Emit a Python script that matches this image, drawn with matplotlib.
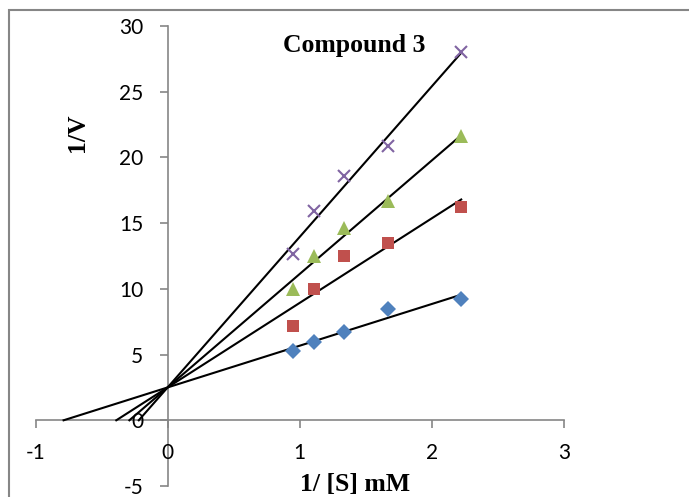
import numpy as np
import matplotlib
matplotlib.use("Agg")
import matplotlib.pyplot as plt
from matplotlib.patches import Rectangle

plt.rcParams["axes.unicode_minus"] = False

# 1/[S] values (mM^-1)
inv_s = [0.952, 1.111, 1.333, 1.667, 2.222]

# 1/V for each inhibitor level
series_names = ["control", "conc 1", "conc 2", "conc 3"]
inv_v = [
    [5.25, 5.95, 6.7, 8.5, 9.2],
    [7.15, 10.0, 12.5, 13.5, 16.2],
    [10.0, 12.5, 14.65, 16.65, 21.6],
    [12.65, 15.9, 18.55, 20.9, 28.0],
]
# trendlines in the original share a fixed intercept
fixed_intercept = 2.5

markers = ["D", "s", "^", "x"]
colors = ["#4F81BD", "#C0504D", "#9BBB59", "#8064A2"]
msizes = [8.5, 8.5, 10.5, 8]

W, H = 689, 497
fig = plt.figure(figsize=(W / 100, H / 100), dpi=100)
ax = fig.add_axes([35.5 / W, 1 - 486 / H, (564 - 35.5) / W, (486 - 26) / H])

x = np.array(inv_s)
for ys, m, c, ms in zip(inv_v, markers, colors, msizes):
    y = np.array(ys)
    # least squares slope with intercept held fixed
    slope = np.sum(x * (y - fixed_intercept)) / np.sum(x * x)
    x0 = -fixed_intercept / slope
    xl = np.array([x0, x.max()])
    ax.plot(xl, fixed_intercept + slope * xl, color="black", lw=1.5, zorder=2)
    if m == "x":
        ax.plot(x, y, linestyle="none", marker=m, color=c, ms=ms,
                markeredgewidth=1.5, zorder=3)
    else:
        ax.plot(x, y, linestyle="none", marker=m, color=c, ms=ms,
                markeredgewidth=0, zorder=3)

ax.set_xlim(-1, 3)
ax.set_ylim(-5, 30)
ax.set_xticks(np.arange(-1, 4, 1))
ax.set_yticks(np.arange(-5, 31, 5))

axis_gray = "#868686"
for side in ["top", "right"]:
    ax.spines[side].set_visible(False)
ax.spines["left"].set_position(("data", 0))
ax.spines["bottom"].set_position(("data", 0))
for side in ["left", "bottom"]:
    ax.spines[side].set_color(axis_gray)
    ax.spines[side].set_linewidth(1.2)
ax.spines["left"].set_zorder(1)
ax.spines["bottom"].set_zorder(1)

ax.tick_params(axis="both", direction="out", length=5.5, width=1.2,
               color=axis_gray, labelsize=15)
ax.tick_params(axis="y", pad=12)
ax.tick_params(axis="x", pad=11)
for lbl in ax.get_xticklabels() + ax.get_yticklabels():
    lbl.set_fontfamily("Lato")
ax.patch.set_visible(False)

serif = "Liberation Serif"
fig.text(354.5 / W, 1 - 46 / H, "Compound 3", fontsize=18.5, fontweight="bold",
         family=serif, ha="center", va="center")
fig.text(355.5 / W, 1 - 484 / H, "1/ [S] mM", fontsize=18.5, fontweight="bold",
         family=serif, ha="center", va="center")
fig.text(78 / W, 1 - 133 / H, "1/V", fontsize=18.5, fontweight="bold",
         family=serif, ha="center", va="center", rotation=90)

# chart area border (only top and left edges fall inside the image)
fig.patches.append(Rectangle((8.5 / W, -0.1), 1.2, 1.1 - 9.5 / H,
                             transform=fig.transFigure, fill=False,
                             edgecolor=axis_gray, lw=1.5))

fig.savefig("out.png", dpi=100)
